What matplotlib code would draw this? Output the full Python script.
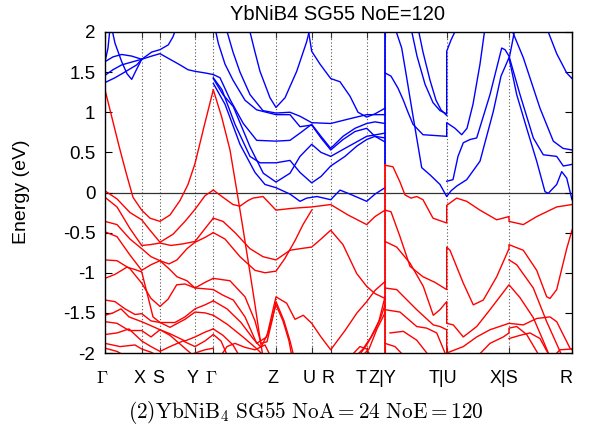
import matplotlib
matplotlib.use('Agg')
import matplotlib.pyplot as plt
from matplotlib.transforms import ScaledTranslation

plt.rcParams['font.family'] = ['Liberation Sans', 'DejaVu Sans']
plt.rcParams['mathtext.fontset'] = 'cm'
plt.rcParams['axes.unicode_minus'] = False

# high-symmetry points along the k-path (path length units)
kpath_pos = [0, 36.7, 55, 90, 108.3, 171, 206.7, 225.7, 261.7, 280, 341.7, 404, 467]
kpath_labels = [r'$\Gamma$', 'X', 'S', 'Y', r'$\Gamma$', 'Z', 'U', 'R', 'T',
                'Z|Y', 'T|U', 'X|S', 'R']

# ---- bands, (k, E) pairs, Gamma-X-S-Y-Gamma ----
red_gxsyg = [
    [(0, 1.28), (7, 0.93), (14, 0.58), (21, 0.25), (28, -0.06), (36.7, -0.22), (45, -0.32),
     (55, -0.36), (65, -0.28), (75, -0.10), (83, 0.10), (90, 0.36), (99, 0.82), (108.3, 1.28)],
    [(0, 0.02), (12, -0.08), (25, -0.25), (36.7, -0.34), (45, -0.47), (55, -0.62), (68, -0.52),
     (80, -0.36), (90, -0.21), (100, -0.04), (108.3, 0.03)],
    [(0, -0.06), (12, -0.18), (25, -0.45), (36.7, -0.66), (45, -0.65), (55, -0.63), (66, -0.66),
     (78, -0.64), (90, -0.61), (100, -0.45), (108.3, -0.32)],
    [(0, -0.36), (12, -0.40), (25, -0.58), (36.7, -0.70), (46, -0.80), (55, -0.85), (64, -0.89),
     (72, -0.84), (82, -0.70), (90, -0.62), (100, -0.56), (108.3, -0.50)],
    [(0, -0.49), (12, -0.55), (25, -0.78), (36.7, -0.97), (46, -0.90), (55, -0.85), (64, -0.95),
     (72, -1.05), (82, -1.10), (90, -1.19), (100, -1.12), (108.3, -1.07)],
    [(0, -0.84), (12, -0.85), (25, -0.95), (36.7, -1.13), (46, -1.32), (55, -1.42), (63, -1.33),
     (71.7, -1.15), (80, -1.14), (90, -1.19), (100, -1.20), (108.3, -1.21)],
    [(0, -1.07), (10, -1.02), (22, -0.93), (30, -0.96), (36.7, -0.99), (42, -1.25), (48, -1.55),
     (55, -1.62), (70, -1.62), (80, -1.55), (90, -1.45), (100, -1.40), (108.3, -1.35)],
    [(0, -1.34), (10, -1.36), (20, -1.45), (30, -1.52), (36.7, -1.51), (46, -1.60), (55, -1.62),
     (65, -1.68), (80, -1.58), (90, -1.49), (100, -1.50), (108.3, -1.53)],
    [(0, -1.53), (8, -1.50), (16, -1.45), (24, -1.55), (36.7, -1.61), (46, -1.66), (55, -1.71),
     (65, -1.76), (80, -1.85), (90, -1.80), (100, -1.74), (108.3, -1.70)],
    [(0, -1.61), (12, -1.63), (24, -1.72), (36.7, -1.72), (46, -1.80), (55, -1.71), (65, -1.78),
     (78, -1.92), (90, -2.05)],
    [(0, -1.77), (12, -1.75), (24, -1.70), (36.7, -1.85), (46, -1.92), (55, -1.98), (65, -1.92),
     (78, -1.85), (90, -1.92), (100, -1.85), (108.3, -1.77)],
    [(0, -1.88), (15, -1.92), (30, -1.90), (36.7, -1.95), (46, -1.99), (55, -2.05)],
    [(0, -1.94), (12, -1.98), (22, -2.05)],
    [(80, -2.05), (90, -2.0), (100, -1.96), (108.3, -1.94)],
]
blue_gxsyg = [
    [(0, 1.63), (3, 1.80), (5, 2.05)],
    [(6.7, 2.05), (10, 1.86), (16.7, 1.63), (22, 1.48), (26.7, 1.41), (31, 1.52), (36.7, 1.66)],
    [(0, 1.63), (8, 1.69), (16.7, 1.72), (26.7, 1.70), (36.7, 1.66)],
    [(0, 1.46), (8, 1.53), (16.7, 1.59), (28, 1.63), (36.7, 1.66)],
    [(0, 1.37), (10, 1.43), (18.3, 1.49), (31.7, 1.59), (36.7, 1.66)],
    [(36.7, 1.66), (46.7, 1.75), (55, 1.78), (63.3, 1.84), (68, 1.94), (71, 2.05)],
    [(36.7, 1.66), (46.7, 1.70), (55, 1.73), (65, 1.66), (75, 1.59), (83, 1.53), (90, 1.51),
     (100, 1.49), (108.3, 1.47)],
]

# ---- Gamma-Z-U-R-T-Z ----
red_gzurtz = [
    [(108.3, 1.28), (116.7, 0.94), (125, 0.53), (131.7, 0.03), (138, -0.45), (145, -1.0),
     (150, -1.40), (155, -1.82), (158, -2.05)],
    [(108.3, 0.03), (118, -0.06), (128, -0.15), (135, -0.17), (143, -0.10), (148, -0.07),
     (158, -0.05), (171, -0.22), (185, -0.20), (195, -0.19), (206.7, -0.18), (225.7, -0.15),
     (243, -0.28), (261.7, -0.40), (270, -0.30), (280, -0.22)],
    [(108.3, -0.32), (118, -0.36), (130, -0.50), (145, -0.70), (158, -0.80), (171, -0.84),
     (185, -0.72), (195, -0.70), (206.7, -0.68), (216, -0.58), (225.7, -0.47), (238, -0.65),
     (251.7, -1.01), (261.7, -1.17), (270, -1.26), (280, -1.32)],
    [(108.3, -0.50), (120, -0.58), (135, -0.80), (150, -0.97), (160, -1.0), (171, -0.98),
     (180, -0.82), (190, -0.60), (198, -0.40), (206.7, -0.22)],
    [(108.3, -1.21), (118, -1.28), (128.3, -1.34), (140, -1.55), (151.7, -1.88), (161.7, -1.80),
     (171, -1.30), (181.7, -1.38), (190, -1.58), (198.3, -1.53), (206.7, -1.63), (216, -1.80),
     (225.7, -1.96), (240, -1.72), (252, -1.50), (261.7, -1.36), (270, -1.22), (280, -1.11)],
    [(108.3, -1.07), (125, -1.10), (140, -1.30), (150, -1.60), (156, -1.88), (162, -1.86),
     (167, -1.60), (171, -1.36), (179, -1.60), (185, -1.85), (189, -2.05)],
    [(108.3, -1.35), (122, -1.45), (136, -1.62), (148, -1.82), (156, -1.93), (163, -1.75),
     (171, -1.40), (178, -1.60), (184, -1.85), (187, -2.05)],
    [(108.3, -1.53), (122, -1.64), (138, -1.80), (152, -1.95), (160, -2.05)],
    [(108.3, -1.70), (118, -1.78), (128, -1.90), (135, -2.05)],
    [(108.3, -1.77), (116, -1.85), (123, -2.05)],
    [(115, -2.05), (122, -1.92), (130, -1.88), (140, -1.93), (150, -1.96), (160, -1.90),
     (166, -2.05)],
    [(250, -2.05), (258, -1.95), (266, -1.80), (274, -1.60), (280, -1.30)],
    [(253, -2.05), (261.7, -1.90), (270, -1.72), (276, -1.55), (280, -1.40)],
    [(256, -2.05), (264, -1.95), (272, -1.70), (280, -1.50)],
    [(245, -2.05), (255, -1.92), (261.7, -1.95), (266, -2.05)],
]
blue_gzurtz = [
    [(144, 2.05), (150, 1.75), (155, 1.51), (165, 1.18), (171, 1.06), (180, 1.18), (191.7, 1.51),
     (201.7, 1.88), (205, 2.05)],
    [(110, 2.05), (113.3, 1.86), (120, 1.60), (128, 1.40), (140, 1.15), (151.7, 1.03),
     (171, 0.97), (185, 0.97), (195, 0.82), (206.7, 0.84), (216, 0.68), (225.7, 0.53),
     (238, 0.66), (250, 0.76), (261.7, 0.80), (270, 0.70), (280, 0.63)],
    [(121, 2.05), (128, 1.75), (135, 1.50), (145, 1.22), (158, 1.02), (171, 0.99), (185, 1.0),
     (195, 0.95), (206.7, 0.87), (225.7, 0.86), (245, 0.92), (261.7, 0.97), (280, 0.97)],
    [(108.3, 1.47), (115, 1.43), (125, 1.16), (138.3, 0.86), (151.7, 0.65), (171, 0.64),
     (185, 0.65), (195, 0.74), (206.7, 0.85), (216, 0.70), (225.7, 0.55), (238, 0.70),
     (250, 0.80), (261.7, 0.86), (270, 0.88), (280, 0.86)],
    [(108.3, 1.42), (118, 1.22), (128.3, 1.07), (145, 0.57), (158.3, 0.24), (171, 0.13),
     (185, 0.24), (195, 0.45), (206.7, 0.60), (216, 0.50), (225.7, 0.45), (240, 0.55),
     (261.7, 0.70), (280, 0.74)],
    [(108.3, 1.43), (117, 1.28), (130, 0.85), (145, 0.45), (155, 0.37), (171, 0.37),
     (185, 0.40), (195, 0.25), (206.7, 0.12), (216, 0.20), (225.7, 0.33), (240, 0.45),
     (252, 0.58), (261.7, 0.66), (270, 0.70), (280, 0.68)],
    [(108.3, 1.36), (120, 1.10), (135, 0.60), (150, 0.25), (160, 0.10), (171, 0.06),
     (185, -0.02), (195, -0.11), (201.7, -0.07), (212, -0.05), (225.7, -0.09), (235, 0.03),
     (245, -0.02), (261.7, -0.11), (270, -0.02), (280, 0.06)],
    [(203, 2.05), (206.7, 1.76), (215, 1.60), (225.7, 1.42), (235, 1.38), (245, 1.20),
     (253, 1.0), (261.7, 0.94), (270, 0.98), (280, 1.05)],
]

# ---- Y-T | U-X | S-R ----
red_ytuxsr = [
    [(280, 0.34), (288, 0.32), (295, 0.13), (300, -0.03), (306, -0.07), (311.7, -0.05),
     (318, -0.09), (328, -0.32), (341.7, -0.38), (341.7, -0.16), (351.7, -0.07),
     (361.7, -0.11), (375, -0.22), (391.7, -0.34), (404, -0.30), (404, -0.36),
     (418.3, -0.40), (431.7, -0.30), (451.7, -0.18), (467, -0.15)],
    [(280, -0.22), (286, -0.24), (295, -0.55), (305, -0.92), (318, -1.05), (330, -1.12),
     (341.7, -1.21), (341.7, -0.68), (345, -0.72), (358.3, -1.13), (368.3, -1.40),
     (378.3, -1.34), (391.7, -1.05), (404, -0.70), (404, -0.65), (418.3, -0.72),
     (431.7, -0.97), (441.7, -1.30), (445, -1.32), (451.7, -1.21), (461.7, -0.70),
     (467, -0.47)],
    [(280, -0.61), (291.7, -0.68), (305, -0.88), (318.3, -1.17), (328.3, -1.53), (335, -1.46),
     (341.7, -1.36), (341.7, -1.63), (348.3, -1.65), (358.3, -1.80), (371.7, -1.67),
     (385, -1.46), (404, -1.15), (415, -1.31), (428.3, -1.56), (438.3, -1.85), (445, -2.05)],
    [(280, -1.19), (291.7, -1.21), (311.7, -1.46), (328.3, -1.65), (335, -1.67),
     (341.7, -1.71), (341.7, -2.0), (358.3, -1.92), (371.7, -1.80), (385, -1.71),
     (404, -1.63), (418.3, -1.65), (431.7, -1.57), (445, -1.55), (451.7, -1.61),
     (465, -1.94), (467, -1.96)],
    [(280, -1.46), (295, -1.49), (311.7, -1.67), (321.7, -1.69), (331.7, -1.75), (341.7, -2.05)],
    [(285, -1.75), (298.3, -1.73), (311.7, -1.84), (325, -2.05)],
    [(280, -1.88), (290, -1.92), (300, -2.05)],
    [(371.7, -2.05), (385, -1.88), (398.3, -1.80), (404, -1.75), (404, -1.69), (411.7, -1.67),
     (421.7, -1.77), (435, -2.05)],
    [(404, -0.84), (411.7, -0.90), (428.3, -1.19), (441.7, -1.61), (455, -1.98), (457, -2.05)],
    [(404, -1.82), (415, -1.78), (425, -1.75), (435, -1.82), (445, -2.05)],
    [(448, -2.05), (455, -1.96), (467, -1.95)],
]
blue_ytuxsr = [
    [(290, 2.05), (296.7, 1.8), (301.7, 1.43), (306.7, 1.05), (311.7, 0.68), (316.7, 0.31),
     (325, 0.22), (335, 0.10), (341.7, -0.05), (346, 0.02), (351.7, 0.08), (361.7, 0.16),
     (375, 0.39), (388.3, 1.01), (396, 1.45), (404, 1.68), (411.7, 1.22), (421.7, 0.80),
     (431.7, 0.39), (440, 0.01), (443.3, -0.01), (451.7, 0.10), (456.7, 0.26), (461.7, 0.18),
     (467, -0.09)],
    [(280, 1.49), (286, 1.45), (293, 1.30), (298, 1.16), (303, 1.0), (308, 0.85), (318, 0.72),
     (330, 0.71), (341.7, 0.70), (341.7, 0.87), (350, 0.80), (356.7, 0.72), (362, 0.80),
     (368, 1.1), (375, 1.6), (380, 2.05)],
    [(306, 2.05), (312, 1.7), (320, 1.35), (328, 1.12), (335, 1.02), (341.7, 0.98),
     (341.7, 1.76), (346, 1.9), (351.7, 2.05)],
    [(313, 2.05), (318, 1.75), (325, 1.4), (331, 1.15), (336, 1.03), (341.7, 0.96)],
    [(341.7, 0.14), (348, 0.16), (353, 0.45), (358.3, 0.62), (365, 0.66), (371.7, 0.68),
     (385, 1.22), (396.7, 1.80), (400, 1.78), (404, 1.70), (415, 1.22), (428.3, 0.68),
     (438.3, 0.47), (451.7, 0.45), (458.3, 0.33), (467, 0.35)],
    [(406, 2.05), (418.3, 1.68), (435, 1.05), (448.3, 0.64), (458, 0.55), (467, 0.53)],
    [(441.7, 2.05), (451.7, 1.73), (461.7, 1.49), (467, 1.42)],
    [(404, 1.66), (407, 1.85), (410, 2.05)],
]

# the band jump at Z|Y runs through the whole window
zy_blue_span = [0.35, 2.0]
zy_red_span = [-2.0, 0.35]

fig = plt.figure(figsize=(5.89, 4.38), dpi=100)
ax = fig.add_axes([105 / 589, 85 / 438, 467 / 589, 321 / 438])

# dotted lines at the high-symmetry points
for k in kpath_pos[1:-1]:
    ax.axvline(k, color='#555555', lw=0.8, ls=(0, (1, 2)), zorder=1)
ax.axhline(0, color='#333333', lw=0.9, zorder=1)

for group, col in [(red_gxsyg, '#ff0000'), (red_gzurtz, '#ff0000'), (red_ytuxsr, '#ff0000'),
                   (blue_gxsyg, '#0000ff'), (blue_gzurtz, '#0000ff'), (blue_ytuxsr, '#0000ff')]:
    for band in group:
        ks = [p[0] for p in band]
        es = [p[1] for p in band]
        ax.plot(ks, es, color=col, lw=1.0, zorder=2)

ax.vlines(kpath_pos[9], zy_blue_span[0], zy_blue_span[1], color='#0000ff', lw=1.3, zorder=3)
ax.vlines(kpath_pos[9], zy_red_span[0], zy_red_span[1], color='#ff0000', lw=1.3, zorder=3)

ax.set_xlim(kpath_pos[0], kpath_pos[-1])
ax.set_ylim(-2, 2)
ax.set_xticks(kpath_pos)
ax.set_xticklabels(kpath_labels, fontsize=13)
ax.set_yticks([-2, -1.5, -1, -0.5, 0, 0.5, 1, 1.5, 2])
ax.set_yticklabels(['-2', '-1.5', '-1', '-0.5', '0', '0.5', '1', '1.5', '2'], fontsize=13.5)
ax.tick_params(axis='y', direction='in', length=5, right=True, pad=7)
ax.tick_params(axis='x', direction='in', length=4, top=True, pad=12, color='#333333')
for s in ax.spines.values():
    s.set_linewidth(1.0)
    s.set_zorder(4)

# gnuplot puts the point labels a little left of their ticks
label_shift_px = [-2.5, -2, -2, -2, -2, -3, -3, -3, -5.5, -3, -3.5, -5, -6]
for lbl, dx in zip(ax.get_xticklabels(), label_shift_px):
    lbl.set_transform(lbl.get_transform() + ScaledTranslation(dx / 100, 0, fig.dpi_scale_trans))

fig.text(22 / 589, (438 - 192) / 438, 'Energy (eV)', rotation=90, ha='center', va='center',
         fontsize=14)
fig.text(338 / 589, (438 - 14) / 438, 'YbNiB4 SG55 NoE=120', ha='center', va='center',
         fontsize=14.5)
fig.text(306 / 589, (438 - 413) / 438, r'$\mathrm{(2)YbNiB_4\ SG55\ NoA=24\ NoE=120}$',
         ha='center', va='center', fontsize=15.3)

fig.savefig('out.png', dpi=100)
